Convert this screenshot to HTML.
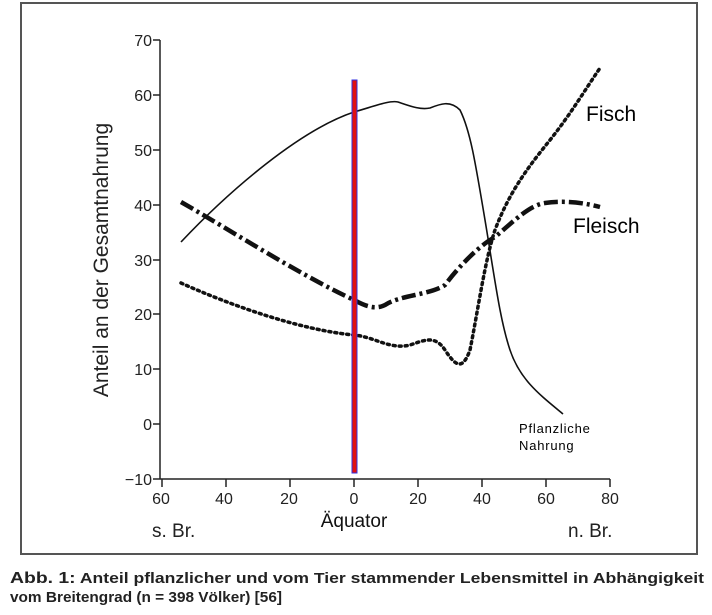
<!DOCTYPE html>
<html><head><meta charset="utf-8"><style>
body{margin:0;background:#fff;width:712px;height:615px;overflow:hidden}
svg{display:block}
</style></head><body>
<svg width="712" height="615" xmlns="http://www.w3.org/2000/svg" font-family="Liberation Sans, sans-serif">
<rect x="21" y="3" width="676" height="551" fill="none" stroke="#555" stroke-width="2"/>
<g stroke="#222" stroke-width="1.5" fill="none">
<line x1="160" y1="40" x2="160" y2="479"/>
<line x1="160" y1="479" x2="610" y2="479"/>
<line x1="153" y1="40" x2="160" y2="40"/><line x1="153" y1="95" x2="160" y2="95"/>
<line x1="153" y1="150" x2="160" y2="150"/><line x1="153" y1="205" x2="160" y2="205"/>
<line x1="153" y1="260" x2="160" y2="260"/><line x1="153" y1="314" x2="160" y2="314"/>
<line x1="153" y1="369" x2="160" y2="369"/><line x1="153" y1="424" x2="160" y2="424"/>
<line x1="153" y1="479" x2="160" y2="479"/>
<line x1="162" y1="479" x2="162" y2="487"/><line x1="226" y1="479" x2="226" y2="487"/>
<line x1="290" y1="479" x2="290" y2="487"/><line x1="354" y1="479" x2="354" y2="487"/>
<line x1="418" y1="479" x2="418" y2="487"/><line x1="482" y1="479" x2="482" y2="487"/>
<line x1="546" y1="479" x2="546" y2="487"/><line x1="610" y1="479" x2="610" y2="487"/>
</g>
<g font-size="16" fill="#222" text-anchor="end">
<text x="152" y="46">70</text><text x="152" y="101">60</text><text x="152" y="156">50</text>
<text x="152" y="211">40</text><text x="152" y="266">30</text><text x="152" y="320">20</text>
<text x="152" y="375">10</text><text x="152" y="430">0</text><text x="152" y="485">−10</text>
</g>
<g font-size="16" fill="#222" text-anchor="middle">
<text x="161" y="504">60</text><text x="224" y="504">40</text><text x="289" y="504">20</text>
<text x="354" y="504">0</text><text x="418" y="504">20</text><text x="482" y="504">40</text>
<text x="546" y="504">60</text><text x="610" y="504">80</text>
</g>
<text x="354" y="527" font-size="19" text-anchor="middle" fill="#111">Äquator</text>
<text x="152" y="537" font-size="19" fill="#222">s. Br.</text>
<text x="568" y="537" font-size="19" fill="#222">n. Br.</text>
<text transform="translate(108,260) rotate(-90)" font-size="21" text-anchor="middle" fill="#222">Anteil an der Gesamtnahrung</text>
<path d="M181,242 C230,190 300,130 354,112 C375,106 390,100 398,102 C410,106 420,110 430,108 C440,104 450,100 460,110 C470,130 475,160 485,220 C495,280 500,320 510,350 C520,380 540,395 563,414" fill="none" stroke="#111" stroke-width="1.6"/>
<path d="M181,202 C230,230 300,275 354,300 C365,306 375,310 385,305 C400,295 430,295 445,285 C460,265 480,245 495,237 C515,220 530,205 545,203 C565,200 585,203 600,207" fill="none" stroke="#111" stroke-width="4.5" stroke-dasharray="14,4,3,4"/>
<path d="M181,283 C230,305 300,330 354,335 C375,337 390,350 410,345 C425,340 435,335 445,350 C455,365 462,372 470,350 C478,310 485,260 495,230 C510,190 530,165 550,140 C570,115 585,90 600,68" fill="none" stroke="#111" stroke-width="3.5" stroke-dasharray="2,4" stroke-linecap="round"/>
<rect x="352" y="80" width="5" height="393" fill="#e01010" stroke="#3030e0" stroke-width="1"/>
<text x="586" y="121" font-size="21" fill="#000">Fisch</text>
<text x="573" y="233" font-size="21" fill="#000">Fleisch</text>
<text x="519" y="433" font-size="13" fill="#000" letter-spacing="0.8">Pflanzliche</text>
<text x="519" y="450" font-size="13" fill="#000" letter-spacing="0.8">Nahrung</text>
<text x="10" y="583" font-size="14.5" font-weight="bold" fill="#222" textLength="694" lengthAdjust="spacingAndGlyphs"><tspan font-size="16">Abb. 1:</tspan> Anteil pflanzlicher und vom Tier stammender Lebensmittel in Abhängigkeit</text>
<text x="10" y="602" font-size="14.5" font-weight="bold" fill="#222" textLength="272" lengthAdjust="spacingAndGlyphs">vom Breitengrad (n = 398 Völker) [56]</text>
</svg>
</body></html>
